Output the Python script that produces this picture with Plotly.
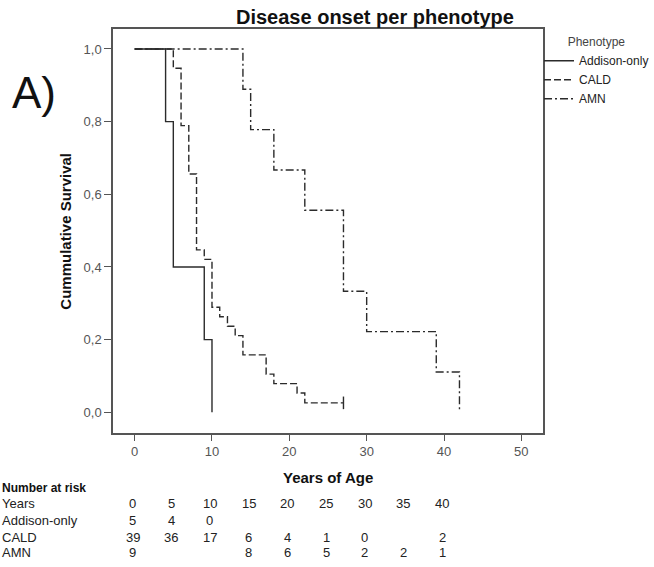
import plotly.graph_objects as go

# ---- data ----
addison_t = [0, 4, 5, 9, 10]
addison_s = [1.0, 0.8, 0.4, 0.2, 0.0]

cald_t = [0, 5, 6, 7, 8, 9, 10, 11, 12, 13, 14, 17, 18, 21, 22, 27]
cald_s = [1.0, 0.947, 0.789, 0.656, 0.447, 0.421, 0.289, 0.263, 0.237,
          0.211, 0.158, 0.105, 0.079, 0.053, 0.026, 0.026]
cald_censor_t = [27]
cald_censor_s = [0.026]

amn_t = [0, 14, 15, 18, 22, 27, 30, 39, 42]
amn_s = [1.0, 0.889, 0.778, 0.667, 0.556, 0.333, 0.222, 0.111, 0.0]

risk_years = [0, 5, 10, 15, 20, 25, 30, 35, 40]
risk_addison = ["5", "4", "0", "", "", "", "", "", ""]
risk_cald = ["39", "36", "17", "6", "4", "1", "0", "", "2"]
risk_amn = ["9", "", "", "8", "6", "5", "2", "2", "1"]

x_ticks = [0, 10, 20, 30, 40, 50]
y_ticks = [0.0, 0.2, 0.4, 0.6, 0.8, 1.0]

FONT = "Liberation Sans, Arial, sans-serif"
LINE = "#2b2b2b"
AX = "#555555"

fig = go.Figure()
fig.add_trace(go.Scatter(x=addison_t, y=addison_s, mode="lines", line_shape="hv",
                         line=dict(color=LINE, width=1.4), name="Addison-only"))
fig.add_trace(go.Scatter(x=cald_t, y=cald_s, mode="lines", line_shape="hv",
                         line=dict(color=LINE, width=1.4, dash="7px,3px"), name="CALD"))
fig.add_trace(go.Scatter(x=amn_t, y=amn_s, mode="lines", line_shape="hv",
                         line=dict(color=LINE, width=1.4, dash="8px,3px,2px,3px"), name="AMN"))
fig.add_trace(go.Scatter(x=cald_censor_t, y=cald_censor_s, mode="markers",
                         marker=dict(symbol="line-ns-open", size=9, color=LINE,
                                     line=dict(color=LINE, width=1.4)),
                         showlegend=False, hoverinfo="skip"))

# plot area in pixels: left 113, right 543, top 29, bottom 433
def py(p):
    return (433.3 - p) / 404.0

def px(p):
    return (p - 113.0) / 430.0

ann = []
ann.append(dict(text="<b>Disease onset per phenotype</b>", x=px(375), y=py(17.5),
                xref="paper", yref="paper", showarrow=False, xanchor="center",
                yanchor="middle", font=dict(size=20, color="#111", family=FONT)))
ann.append(dict(text="<b>Cummulative Survival</b>", x=px(66), y=py(232),
                xref="paper", yref="paper", showarrow=False, textangle=-90,
                xanchor="center", yanchor="middle",
                font=dict(size=15, color="#111", family=FONT)))
ann.append(dict(text="A)", x=px(34), y=py(93), xref="paper", yref="paper",
                showarrow=False, xanchor="center", yanchor="middle",
                font=dict(size=44, color="#111", family=FONT)))
ann.append(dict(text="<b>Years of Age</b>", x=px(328), y=py(478), xref="paper",
                yref="paper", showarrow=False, xanchor="center", yanchor="middle",
                font=dict(size=15, color="#111", family=FONT)))
ann.append(dict(text="<b>Number at risk</b>", x=px(0), y=py(488), xref="paper",
                yref="paper", showarrow=False, xanchor="left", yanchor="middle",
                font=dict(size=12, color="#111", family=FONT)))

rows = [("Years", [str(v) for v in risk_years], 504),
        ("Addison-only", risk_addison, 521),
        ("CALD", risk_cald, 537.5),
        ("AMN", risk_amn, 553)]
for label, vals, ypix in rows:
    ann.append(dict(text=label, x=px(0), y=py(ypix), xref="paper", yref="paper",
                    showarrow=False, xanchor="left", yanchor="middle",
                    font=dict(size=13, color="#222", family=FONT)))
    for yr, v in zip(risk_years, vals):
        if v == "":
            continue
        ann.append(dict(text=v, x=yr, y=py(ypix), xref="x", yref="paper",
                        showarrow=False, xanchor="center", yanchor="middle",
                        xshift=-2, font=dict(size=13, color="#222", family=FONT)))

fig.update_layout(
    width=654, height=567,
    margin=dict(l=113, r=111, t=29, b=134, pad=0, autoexpand=False),
    paper_bgcolor="white", plot_bgcolor="white",
    separators=", ",
    font=dict(family=FONT, size=12, color="#444"),
    showlegend=True,
    legend=dict(x=px(539), y=py(31), xanchor="left", yanchor="top",
                xref="paper", yref="paper",
                title=dict(text="Phenotype", side="top center",
                           font=dict(size=12, color="#444", family=FONT)),
                font=dict(size=12, color="#222", family=FONT),
                itemwidth=30, tracegroupgap=0, bgcolor="rgba(0,0,0,0)"),
    annotations=ann,
)
fig.update_xaxes(range=[-2.8, 52.8], tickvals=x_ticks, ticks="outside", ticklen=6,
                 tickcolor=AX, tickwidth=1.3, showline=True, linecolor=AX,
                 linewidth=1.5, mirror=True, showgrid=False, zeroline=False,
                 tickfont=dict(size=13, color="#555", family=FONT))
fig.update_yaxes(range=[-0.057, 1.055], tickvals=y_ticks, tickformat=".1f",
                 ticks="outside", ticklen=7, tickcolor=AX, tickwidth=1.3,
                 showline=True, linecolor=AX, linewidth=1.5, mirror=True,
                 showgrid=False, zeroline=False,
                 tickfont=dict(size=13, color="#555", family=FONT))

fig.write_html("out.html")
